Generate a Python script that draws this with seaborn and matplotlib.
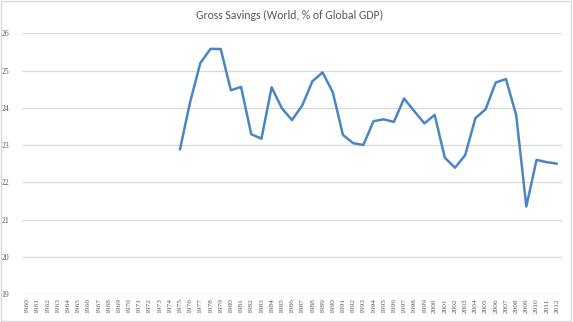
import matplotlib
matplotlib.use("Agg")
import matplotlib.pyplot as plt
import seaborn as sns
import pandas as pd
import numpy as np
from matplotlib.patches import Rectangle

years = list(range(1960, 2013))
savings_years = list(range(1975, 2013))
savings = [22.88, 24.15, 25.2, 25.58, 25.58, 24.47, 24.56, 23.29, 23.17, 24.55,
           23.99, 23.67, 24.06, 24.71, 24.95, 24.42, 23.27, 23.05, 23.0, 23.64,
           23.69, 23.62, 24.25, 23.91, 23.58, 23.81, 22.66, 22.39, 22.73, 23.72,
           23.96, 24.68, 24.77, 23.81, 21.35, 22.6, 22.54, 22.5]
y_ticks = [19, 20, 21, 22, 23, 24, 25, 26]
title = "Gross Savings (World, % of Global GDP)"

df = pd.DataFrame({"year": savings_years, "value": savings})

sns.set_theme(style="white")
plt.rcParams['font.family'] = ['Carlito', 'Liberation Sans', 'DejaVu Sans']

fig = plt.figure(figsize=(5.73, 3.22), dpi=100)
ax = fig.add_axes([22/573, 1 - 294/322, 540/573, (294 - 33.3)/322])

sns.lineplot(data=df, x="year", y="value", ax=ax, color="#4a86c5", linewidth=1.8)

ax.set_xlim(1959.5, 2012.5)
ax.set_ylim(19, 26)
ax.set_yticks(y_ticks)
ax.set_yticklabels([str(v) for v in y_ticks], fontsize=5.5, color="#595959",
                   family=['Liberation Serif', 'DejaVu Serif'])
ax.set_xticks(years)
ax.set_xticklabels([str(y) for y in years], rotation=90, fontsize=5.3, color="#595959",
                   family=['Liberation Serif', 'DejaVu Serif'])
ax.tick_params(axis='both', length=0, pad=3)
ax.tick_params(axis='y', pad=9)
ax.grid(axis='y', color="#d9d9d9", linewidth=0.9)
ax.set_axisbelow(True)
for s in ax.spines.values():
    s.set_visible(False)
ax.set_xlabel("")
ax.set_ylabel("")

fig.text(0.505, 1 - 15/322, title, ha='center', va='center', fontsize=8.5, color="#595959")
fig.patches.append(Rectangle((0.002, 0.003), 0.995, 0.993, transform=fig.transFigure,
                             fill=False, edgecolor="#d9d9d9", linewidth=1))

fig.savefig("out.png", dpi=100)
